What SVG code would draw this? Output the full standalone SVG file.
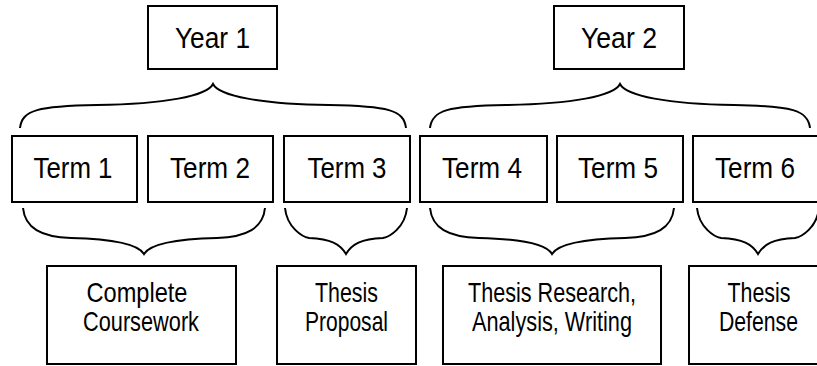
<svg xmlns="http://www.w3.org/2000/svg" width="817" height="366" viewBox="0 0 817 366">
<style>
.box{fill:#fff;stroke:#000;stroke-width:2}
.br{fill:none;stroke:#000;stroke-width:2}
.t{font-family:"Liberation Sans",Arial,sans-serif;fill:#000;text-anchor:middle}
.big{font-size:30px}
.sm{font-size:28px}
</style>
<rect width="817" height="366" fill="#fff"/>
<g id="year1"><rect class="box" x="148" y="6" width="129" height="63"/><text class="t big" x="212.5" y="48" textLength="75" lengthAdjust="spacingAndGlyphs">Year 1</text></g>
<g id="year2"><rect class="box" x="554" y="6" width="130" height="63"/><text class="t big" x="619" y="48" textLength="76" lengthAdjust="spacingAndGlyphs">Year 2</text></g>
<g id="term1"><rect class="box" x="12" y="136" width="125" height="66"/><text class="t big" x="73" y="178" textLength="79" lengthAdjust="spacingAndGlyphs">Term 1</text></g>
<g id="term2"><rect class="box" x="148" y="136" width="125" height="66"/><text class="t big" x="210" y="178" textLength="80" lengthAdjust="spacingAndGlyphs">Term 2</text></g>
<g id="term3"><rect class="box" x="284" y="136" width="126" height="66"/><text class="t big" x="347" y="178" textLength="79" lengthAdjust="spacingAndGlyphs">Term 3</text></g>
<g id="term4"><rect class="box" x="420" y="136" width="127" height="66"/><text class="t big" x="482" y="178" textLength="80" lengthAdjust="spacingAndGlyphs">Term 4</text></g>
<g id="term5"><rect class="box" x="557" y="136" width="126" height="66"/><text class="t big" x="618" y="178" textLength="80" lengthAdjust="spacingAndGlyphs">Term 5</text></g>
<g id="term6"><rect class="box" x="693" y="136" width="125" height="66"/><text class="t big" x="755" y="178" textLength="80" lengthAdjust="spacingAndGlyphs">Term 6</text></g>
<g id="coursework"><rect class="box" x="47" y="266" width="189" height="98"/><text class="t sm" x="137" y="302" textLength="101" lengthAdjust="spacingAndGlyphs">Complete</text><text class="t sm" x="141" y="331" textLength="116" lengthAdjust="spacingAndGlyphs">Coursework</text></g>
<g id="proposal"><rect class="box" x="277" y="266" width="139" height="98"/><text class="t sm" x="346.5" y="302" textLength="63" lengthAdjust="spacingAndGlyphs">Thesis</text><text class="t sm" x="346.5" y="331" textLength="83" lengthAdjust="spacingAndGlyphs">Proposal</text></g>
<g id="research"><rect class="box" x="443" y="266" width="218" height="98"/><text class="t sm" x="552" y="302" textLength="168" lengthAdjust="spacingAndGlyphs">Thesis Research,</text><text class="t sm" x="552" y="331" textLength="160" lengthAdjust="spacingAndGlyphs">Analysis, Writing</text></g>
<g id="defense"><rect class="box" x="689" y="266" width="139" height="98"/><text class="t sm" x="759" y="302" textLength="63" lengthAdjust="spacingAndGlyphs">Thesis</text><text class="t sm" x="758.5" y="331" textLength="79" lengthAdjust="spacingAndGlyphs">Defense</text></g>
<g id="connectors">
<path class="br" d="M20,128 C22,110 38,106 97,105 C165,104 207,96 213,84 C219,96 261,104 329,105 C388,106 404,110 406,128"/>
<path class="br" d="M430,128 C432,110 448,106 506,105 C572,104 614,96 620,84 C626,96 668,104 734,105 C792,106 808,110 810,128"/>
<path class="br" d="M23,208 C25,228 41,237 71,238 C114,239 138,244 144,254 C150,244 174,239 217,238 C247,237 263,228 265,208"/>
<path class="br" d="M285,208 C287,228 303,237 309,238 C331,239 340,244 346,254 C352,244 361,239 383,238 C389,237 405,228 407,208"/>
<path class="br" d="M430,208 C432,228 448,237 479,238 C522,239 546,244 552,254 C558,244 582,239 625,238 C656,237 672,228 674,208"/>
<path class="br" d="M697,208 C699,228 715,237 721,238 C743,239 752,244 758,254 C764,244 773,239 795,238 C801,237 817,228 819,208"/>
</g>
</svg>
